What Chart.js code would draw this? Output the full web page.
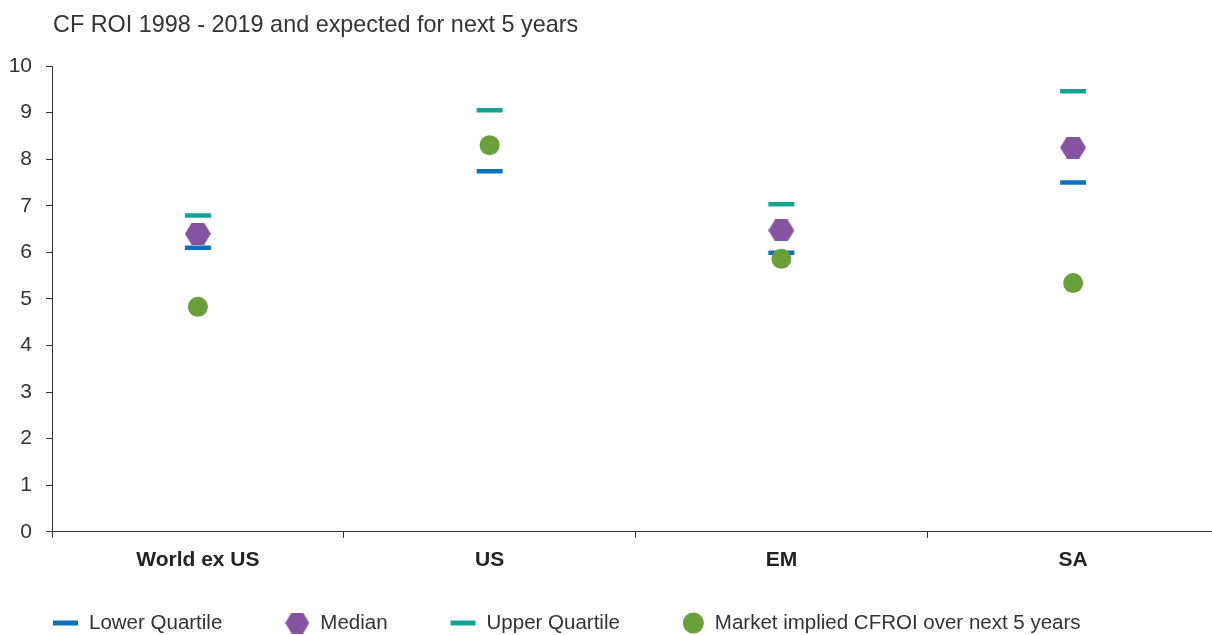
<!DOCTYPE html>
<html>
<head>
<meta charset="utf-8">
<title>CF ROI</title>
<script src="https://cdn.jsdelivr.net/npm/chart.js@4.4.1/dist/chart.umd.min.js"></script>
<style>
  body { margin: 0; background: #fff; overflow: hidden; }
  /* plot runs a few pixels past the right edge of the window */
  #wrap { width: 1219px; height: 635px; position: relative; }
</style>
</head>
<body>
<div id="wrap"><canvas id="roiChart"></canvas></div>
<script>
// CF ROI 1998 - 2019 by region, plus market implied level for the next 5 years
const regions = ['World ex US', 'US', 'EM', 'SA'];
const lowerQuartile = [6.10, 7.74, 5.99, 7.50];
const median = [6.40, null, 6.47, 8.25];
const upperQuartile = [6.79, 9.05, 7.03, 9.46];
const marketImplied = [4.83, 8.30, 5.86, 5.34];
const yTickValues = [0, 1, 2, 3, 4, 5, 6, 7, 8, 9, 10];

const chartTitle = 'CF ROI 1998 - 2019 and expected for next 5 years';
const FONT = '"Liberation Sans", Arial, Helvetica, sans-serif';
const TEXT = '#333333';

const BLUE = '#0a72bd';
const TEAL = '#15a392';
const PURPLE = '#8652a2';
const GREEN = '#69a03a';

// flat-topped hexagon drawn into a small canvas so it can be used as a point style
function makeHexagon(w, h, color) {
  const c = document.createElement('canvas');
  c.width = w;
  c.height = h;
  const g = c.getContext('2d');
  const q = w * 0.26;
  g.fillStyle = color;
  g.beginPath();
  g.moveTo(0, h / 2);
  g.lineTo(q, 0);
  g.lineTo(w - q, 0);
  g.lineTo(w, h / 2);
  g.lineTo(w - q, h);
  g.lineTo(q, h);
  g.closePath();
  g.fill();
  return c;
}

const hexPoint = makeHexagon(26, 22, PURPLE);
const hexLegend = makeHexagon(24, 21, PURPLE);

const titlePlugin = {
  id: 'leftTitle',
  afterDraw(chart) {
    const ctx = chart.ctx;
    ctx.save();
    ctx.font = '23.4px ' + FONT;
    ctx.fillStyle = TEXT;
    ctx.textBaseline = 'middle';
    ctx.fillText(chartTitle, 53, 26);
    ctx.restore();
  }
};

// single-row legend along the bottom
const legendPlugin = {
  id: 'bottomLegend',
  afterDraw(chart) {
    const ctx = chart.ctx;
    const y = 623;
    let x = 53;
    ctx.save();
    ctx.font = '20.5px ' + FONT;
    ctx.textBaseline = 'middle';
    chart.data.datasets.forEach(ds => {
      let textOffset = 36;
      if (ds.pointStyle === 'line') {
        ctx.fillStyle = ds.borderColor;
        ctx.fillRect(x, y - 2.5, 25, 5);
      } else if (ds.pointStyle === 'circle') {
        ctx.fillStyle = ds.backgroundColor;
        ctx.beginPath();
        ctx.arc(x + 10.5, y, 10.5, 0, Math.PI * 2);
        ctx.fill();
        textOffset = 32;
      } else {
        ctx.drawImage(hexLegend, x, y - hexLegend.height / 2);
        textOffset = 35;
      }
      ctx.fillStyle = TEXT;
      ctx.fillText(ds.label, x + textOffset, y);
      x += textOffset + ctx.measureText(ds.label).width + 63;
    });
    ctx.restore();
  }
};

new Chart(document.getElementById('roiChart'), {
  type: 'line',
  data: {
    labels: regions,
    datasets: [
      {
        label: 'Lower Quartile',
        data: lowerQuartile,
        showLine: false,
        pointStyle: 'line',
        pointRadius: 13,
        pointBorderWidth: 4.5,
        borderColor: BLUE,
        backgroundColor: BLUE,
        order: 3
      },
      {
        label: 'Median',
        data: median,
        showLine: false,
        pointStyle: hexPoint,
        pointRadius: 13,
        borderColor: PURPLE,
        backgroundColor: PURPLE,
        order: 2
      },
      {
        label: 'Upper Quartile',
        data: upperQuartile,
        showLine: false,
        pointStyle: 'line',
        pointRadius: 13,
        pointBorderWidth: 4.5,
        borderColor: TEAL,
        backgroundColor: TEAL,
        order: 3
      },
      {
        label: 'Market implied CFROI over next 5 years',
        data: marketImplied,
        showLine: false,
        pointStyle: 'circle',
        pointRadius: 10,
        pointBorderWidth: 0,
        borderColor: GREEN,
        backgroundColor: GREEN,
        order: 0
      }
    ]
  },
  options: {
    responsive: true,
    maintainAspectRatio: false,
    animation: false,
    layout: {
      autoPadding: false,
      padding: { top: 66, right: 0, bottom: 52, left: 0 }
    },
    plugins: {
      legend: { display: false },
      title: { display: false },
      tooltip: { enabled: false }
    },
    scales: {
      x: {
        offset: true,
        grid: {
          offset: true,
          drawOnChartArea: false,
          drawTicks: true,
          tickLength: 6,
          color: '#333'
        },
        border: { color: '#333', width: 1 },
        ticks: {
          padding: 10,
          color: '#222',
          font: { family: FONT, size: 21, weight: 'bold' }
        }
      },
      y: {
        min: 0,
        max: 10,
        afterBuildTicks(axis) {
          axis.ticks = yTickValues.map(v => ({ value: v }));
        },
        afterFit(axis) {
          axis.width = 52;
        },
        grid: {
          drawOnChartArea: false,
          drawTicks: true,
          tickLength: 6,
          color: '#333'
        },
        border: { color: '#333', width: 1 },
        ticks: {
          padding: 14,
          color: TEXT,
          font: { family: FONT, size: 21 }
        }
      }
    }
  },
  plugins: [titlePlugin, legendPlugin]
});
</script>
</body>
</html>
